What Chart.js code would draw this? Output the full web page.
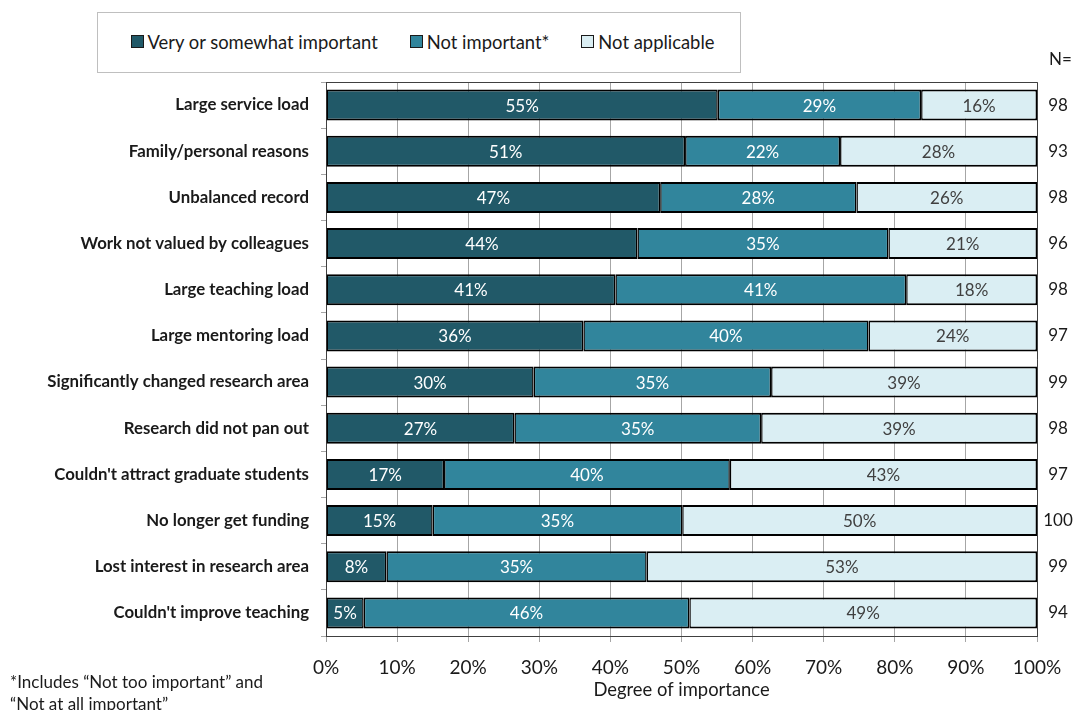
<!DOCTYPE html>
<html>
<head>
<meta charset="utf-8">
<title>Degree of importance</title>
<script src="https://cdn.jsdelivr.net/npm/chart.js@4.4.1/dist/chart.umd.min.js"></script>
<style>
  html, body { margin: 0; padding: 0; background: #fff; }
  body {
    width: 1076px; height: 710px; position: relative; overflow: hidden;
    font-family: Lato, "Open Sans", sans-serif; color: #1a1a1a;
  }
  #chart { position: absolute; left: 0; top: 0; }
  #legend {
    position: absolute; left: 97px; top: 12px; width: 644px; height: 61px;
    box-sizing: border-box; border: 1px solid #bfbfbf; background: #fff;
    display: flex; align-items: center; justify-content: center; gap: 32px;
    font-size: 18.4px; padding: 0 0 2px 7px;
  }
  #legend .item { display: flex; align-items: center; white-space: nowrap; }
  #legend .swatch {
    width: 11px; height: 11px; border: 1px solid #1a1a1a; margin-right: 4px;
  }
  #note {
    position: absolute; left: 10px; top: 671px;
    font-size: 17px; line-height: 22px;
  }
</style>
</head>
<body>
<canvas id="chart" width="1076" height="710"></canvas>
<div id="legend"></div>
<div id="note">*Includes “Not too important” and<br>“Not at all important”</div>
<script>
// Categories (top to bottom)
const categories = [
  "Large service load",
  "Family/personal reasons",
  "Unbalanced record",
  "Work not valued by colleagues",
  "Large teaching load",
  "Large mentoring load",
  "Significantly changed research area",
  "Research did not pan out",
  "Couldn't attract graduate students",
  "No longer get funding",
  "Lost interest in research area",
  "Couldn't improve teaching",
];

const seriesNames = ["Very or somewhat important", "Not important*", "Not applicable"];

// Bar widths (% of respondents)
const veryImportant = [55.1, 50.5, 47.0, 43.8, 40.7, 36.2, 29.2, 26.5, 16.6, 15.0, 8.5, 5.3];
const notImportant = [28.6, 21.8, 27.6, 35.3, 40.9, 40.1, 33.4, 34.7, 40.2, 35.1, 36.6, 45.8];
const notApplicable = [16.3, 27.7, 25.4, 20.9, 18.4, 23.7, 37.4, 38.8, 43.2, 49.9, 54.9, 48.9];

// Printed percentages inside the bars
const veryLabels = [55, 51, 47, 44, 41, 36, 30, 27, 17, 15, 8, 5];
const notLabels = [29, 22, 28, 35, 41, 40, 35, 35, 40, 35, 35, 46];
const naLabels = [16, 28, 26, 21, 18, 24, 39, 39, 43, 50, 53, 49];

// Number of respondents per item
const nCounts = [98, 93, 98, 96, 98, 97, 99, 98, 97, 100, 99, 94];

const xTicks = [0, 10, 20, 30, 40, 50, 60, 70, 80, 90, 100];

const FONT = "Lato, 'Open Sans', sans-serif";
const colors = ["#215968", "#31859c", "#daeef3"];
const labelColors = ["#ffffff", "#ffffff", "#404040"];
const AXIS = "#404040";
const GRID = "#a6a6a6";

// Build legend
const legendEl = document.getElementById("legend");
seriesNames.forEach((name, i) => {
  const item = document.createElement("div");
  item.className = "item";
  item.innerHTML = '<span class="swatch" style="background:' + colors[i] + '"></span>' + name;
  legendEl.appendChild(item);
});

// Labels inside bars, plot frame and N column
const extras = {
  id: "extras",
  afterDatasetsDraw(chart) {
    const ctx = chart.ctx;
    const texts = [veryLabels, notLabels, naLabels];
    ctx.save();
    ctx.font = "17px " + FONT;
    ctx.textAlign = "center";
    ctx.textBaseline = "middle";
    chart.data.datasets.forEach((ds, di) => {
      const meta = chart.getDatasetMeta(di);
      ctx.fillStyle = labelColors[di];
      meta.data.forEach((bar, i) => {
        const c = bar.getCenterPoint();
        ctx.fillText(texts[di][i] + "%", c.x, c.y + 1);
      });
    });
    ctx.restore();
  },
  afterDraw(chart) {
    const ctx = chart.ctx;
    const a = chart.chartArea;
    const yScale = chart.scales.y;
    ctx.save();
    ctx.strokeStyle = AXIS;
    ctx.lineWidth = 1;
    ctx.beginPath();
    ctx.moveTo(a.left, a.top + 0.5);
    ctx.lineTo(a.right + 0.5, a.top + 0.5);
    ctx.lineTo(a.right + 0.5, a.bottom);
    ctx.stroke();

    ctx.fillStyle = "#1a1a1a";
    ctx.font = "17px " + FONT;
    ctx.textBaseline = "middle";
    ctx.textAlign = "left";
    ctx.fillText("N=", a.right + 12, a.top - 22);
    ctx.textAlign = "center";
    nCounts.forEach((n, i) => {
      ctx.fillText(String(n), a.right + 21, yScale.getPixelForValue(i));
    });
    ctx.restore();
  },
};

const mk = (label, data, i) => ({
  label: label,
  data: data,
  backgroundColor: colors[i],
  borderColor: "#000000",
  borderWidth: { top: 2, bottom: 2, left: 1.5, right: 1.5 },
  borderSkipped: false,
  barPercentage: 0.67,
  categoryPercentage: 1,
});

new Chart(document.getElementById("chart").getContext("2d"), {
  type: "bar",
  data: {
    labels: categories,
    datasets: [
      mk(seriesNames[0], veryImportant, 0),
      mk(seriesNames[1], notImportant, 1),
      mk(seriesNames[2], notApplicable, 2),
    ],
  },
  options: {
    indexAxis: "y",
    responsive: false,
    animation: false,
    devicePixelRatio: 1,
    layout: { padding: { top: 82, right: 39, left: 0, bottom: 0 } },
    plugins: {
      legend: { display: false },
      tooltip: { enabled: false },
    },
    scales: {
      x: {
        stacked: true,
        min: 0,
        max: 100,
        afterBuildTicks: (scale) => {
          scale.ticks = xTicks.map((v) => ({ value: v }));
        },
        afterFit: (scale) => {
          scale.height = 74;
        },
        ticks: {
          callback: (v) => v + "%",
          font: { family: FONT, size: 19 },
          color: "#1a1a1a",
          padding: 14,
          maxRotation: 0,
        },
        grid: { color: GRID, lineWidth: 1, tickLength: 6 },
        border: { display: true, color: AXIS, width: 1 },
        title: {
          display: true,
          text: "Degree of importance",
          font: { family: FONT, size: 18.4 },
          color: "#1a1a1a",
          padding: { top: 0, bottom: 9 },
        },
      },
      y: {
        stacked: true,
        afterFit: (scale) => {
          scale.width = 326;
        },
        ticks: {
          font: { family: FONT, size: 16.8, weight: "bold" },
          color: "#1a1a1a",
          padding: 12,
        },
        grid: { drawOnChartArea: false, color: GRID, tickLength: 5, offset: true },
        border: { display: true, color: AXIS, width: 1 },
      },
    },
  },
  plugins: [extras],
});
</script>
</body>
</html>
